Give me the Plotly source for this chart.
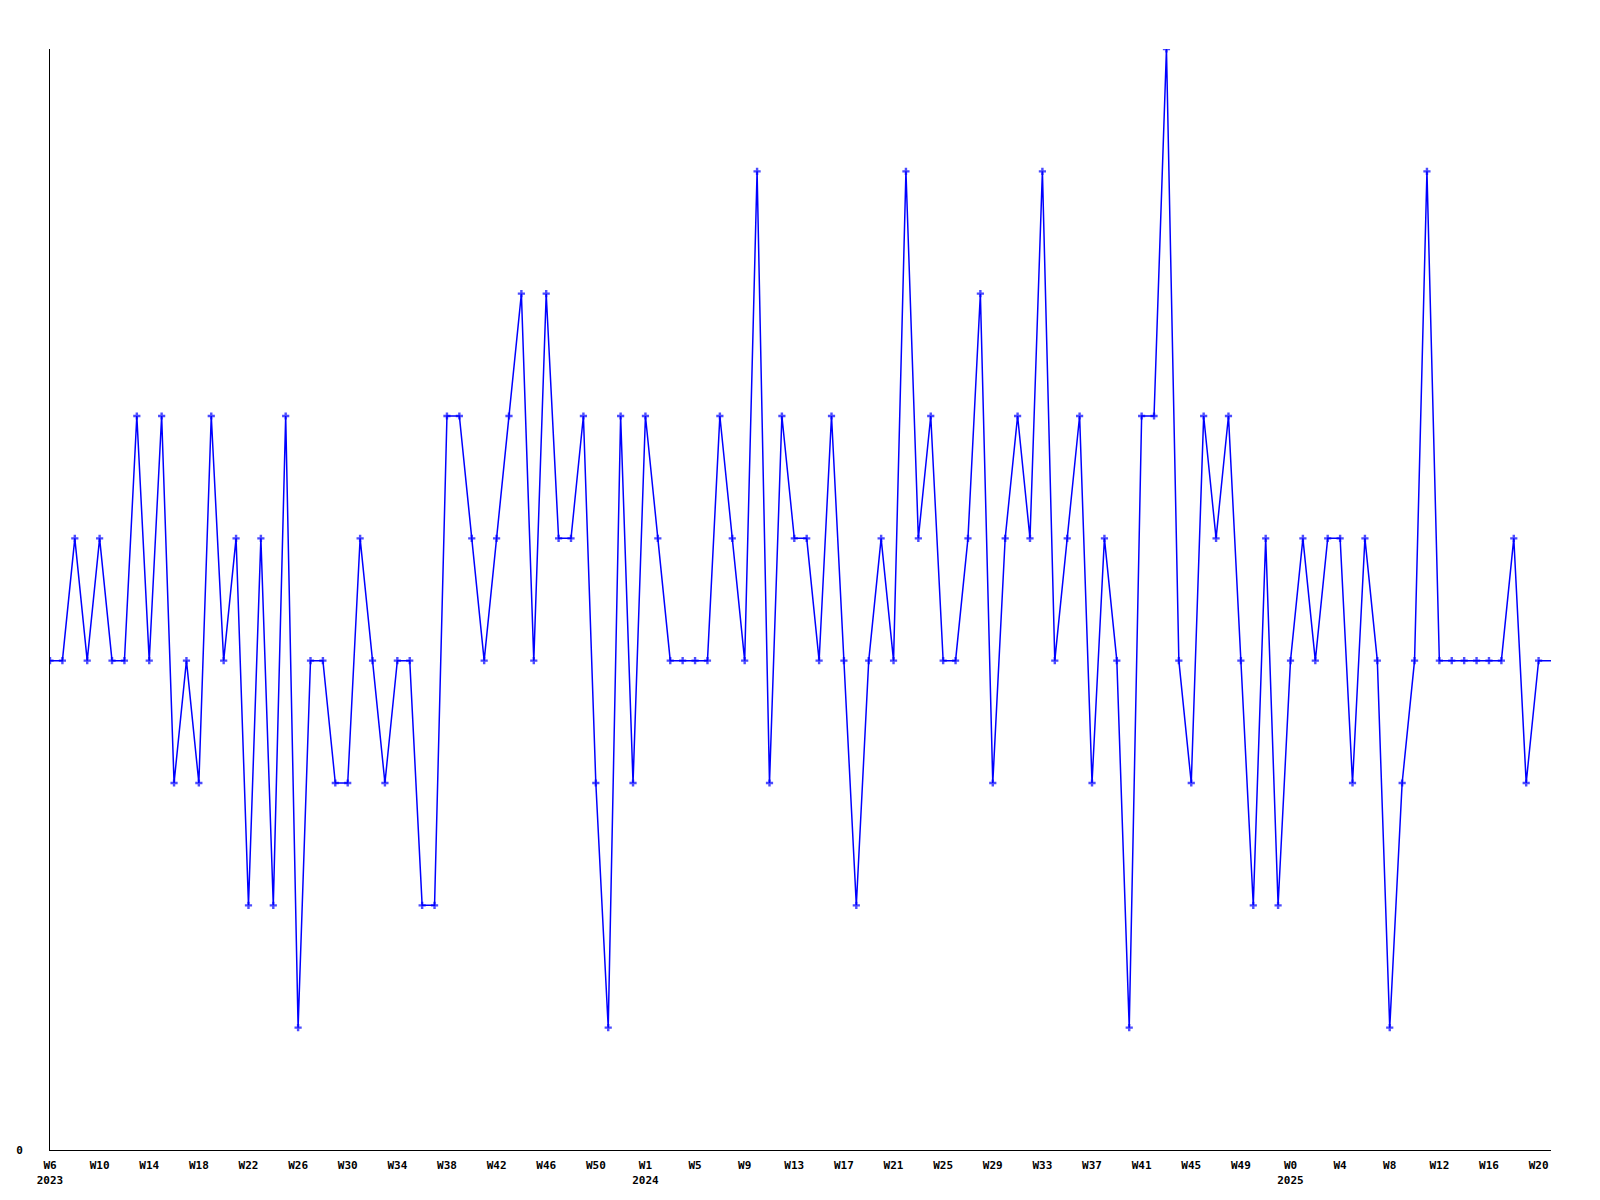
import plotly.graph_objects as go

# Weekly values, 2023-W06 .. 2025-W21
values = [4, 4, 5, 4, 5, 4, 4, 6, 4, 6,
          3, 4, 3, 6, 4, 5, 2, 5, 2, 6,
          1, 4, 4, 3, 3, 5, 4, 3, 4, 4,
          2, 2, 6, 6, 5, 4, 5, 6, 7, 4,
          7, 5, 5, 6, 3, 1, 6, 3, 6, 5,
          4, 4, 4, 4, 6, 5, 4, 8, 3, 6,
          5, 5, 4, 6, 4, 2, 4, 5, 4, 8,
          5, 6, 4, 4, 5, 7, 3, 5, 6, 5,
          8, 4, 5, 6, 3, 5, 4, 1, 6, 6,
          9, 4, 3, 6, 5, 6, 4, 2, 5, 2,
          4, 5, 4, 5, 5, 3, 5, 4, 1, 3,
          4, 8, 4, 4, 4, 4, 4, 4, 5, 3,
          4, 4]

# Week categories
weeks_2023 = [f"2023-W{w}" for w in range(6, 54)]
weeks_2024 = [f"2024-W{w}" for w in range(1, 53)]
weeks_2025 = [f"2025-W{w}" for w in range(0, 22)]
weeks = weeks_2023 + weeks_2024 + weeks_2025

# Tick labels (every 4th week)
tick_labels = ["W6<br>2023", "W10", "W14", "W18", "W22", "W26", "W30", "W34", "W38",
               "W42", "W46", "W50",
               "W1<br>2024", "W5", "W9", "W13", "W17", "W21", "W25", "W29", "W33",
               "W37", "W41", "W45", "W49",
               "W0<br>2025", "W4", "W8", "W12", "W16", "W20"]
tick_weeks = weeks[::4][:len(tick_labels)]

marker_sizes = [6] * (len(values) - 1) + [0]

fig = go.Figure()
fig.add_trace(go.Scatter(
    x=weeks, y=values, mode="lines+markers",
    line=dict(color="#0000ff", width=1.5),
    marker=dict(color="#0000ff", size=marker_sizes, symbol="cross",
                line=dict(width=0)),
    showlegend=False, hoverinfo="x+y",
))

fnt = dict(family="DejaVu Sans Mono", size=11, color="black", weight="bold")

# page body has an 8px margin; compensate so the plot area lands at the same place
fig.update_layout(
    width=1592, height=1192,
    margin=dict(l=42, r=49, t=41, b=50),
    paper_bgcolor="white", plot_bgcolor="white",
    font=fnt,
    xaxis=dict(
        type="category", range=[0, len(weeks) - 1],
        tickmode="array", tickvals=tick_weeks, ticktext=tick_labels,
        showgrid=False, zeroline=False, showline=True, linecolor="black", linewidth=1,
        ticks="", ticklabelstandoff=5, tickfont=fnt, tickangle=0, automargin=False,
    ),
    yaxis=dict(
        range=[0, 9], tickmode="array", tickvals=[0], ticktext=["0"],
        showgrid=False, zeroline=False, showline=True, linecolor="black", linewidth=1,
        ticks="", ticklabelstandoff=24, tickfont=fnt, automargin=False,
    ),
)

fig.write_html("out.html")
